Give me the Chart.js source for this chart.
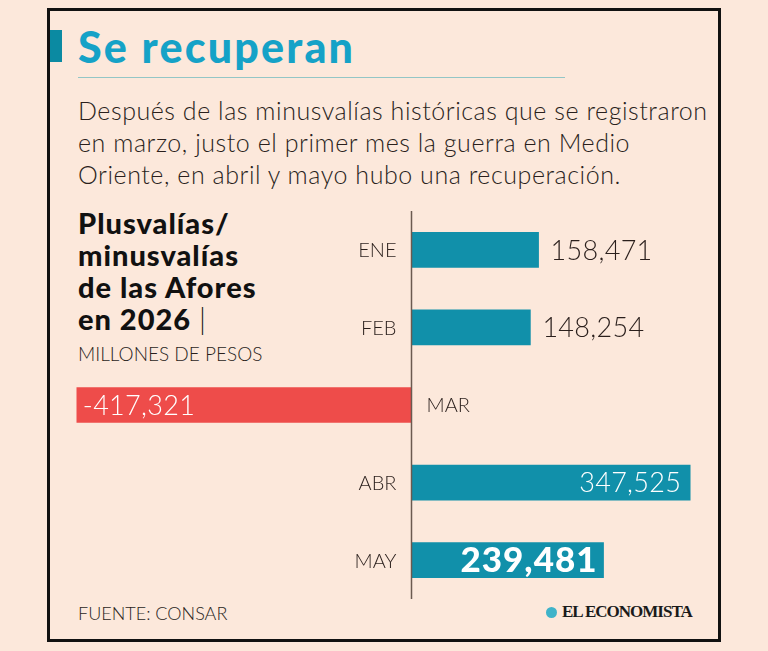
<!DOCTYPE html>
<html>
<head>
<meta charset="utf-8">
<script src="https://cdn.jsdelivr.net/npm/chart.js@4.4.1/dist/chart.umd.min.js"></script>
<style>
  html, body { margin: 0; padding: 0; }
  body {
    width: 768px; height: 651px; background: #fce8db; position: relative; overflow: hidden;
    font-family: Lato, "Noto Sans", sans-serif; color: #2a1f1c;
  }
  .frame { position: absolute; left: 47px; top: 8px; width: 668px; height: 628px; border: 3px solid #111; }
  .accent { position: absolute; left: 50px; top: 30px; width: 12px; height: 32px; background: #0b8aa2; }
  .title { position: absolute; left: 78px; top: 22px; font-size: 43px; font-weight: 900; color: #15a2c7; line-height: 50px; letter-spacing: 2.2px; }
  .rule { position: absolute; left: 78px; top: 77px; width: 487px; height: 1px; background: #93c6c6; }
  .dek { position: absolute; left: 78px; top: 94px; font-size: 25px; font-weight: 300; line-height: 32px; color: #2a1f1c; letter-spacing: 0.55px; }
  .head { position: absolute; left: 78px; top: 207px; font-size: 29px; font-weight: 900; line-height: 32px; color: #111; letter-spacing: 1px; }
  .head .bar { font-weight: 300; }
  .units { position: absolute; left: 78px; top: 342px; font-size: 19px; font-weight: 300; color: #2a1f1c; }
  .source { position: absolute; left: 78px; top: 602px; font-size: 18px; font-weight: 300; color: #2a1f1c; }
  .brand { position: absolute; left: 546px; top: 602px; font-family: "Liberation Serif", serif; font-weight: 700; font-size: 17px; color: #1a1a1a; letter-spacing: -1px; }
  .brand .logo { display: inline-block; width: 11px; height: 11px; border-radius: 50%; background: #3fb3c9; margin-right: 5px; vertical-align: -1px; }
  #wrap { position: absolute; left: 48px; top: 200px; width: 672px; height: 410px; }
</style>
</head>
<body>
<div class="frame"></div>
<div class="accent"></div>
<div class="title">Se recuperan</div>
<div class="rule"></div>
<div class="dek">Después de las minusvalías históricas que se registraron<br>en marzo, justo el primer mes la guerra en Medio<br>Oriente, en abril y mayo hubo una recuperación.</div>
<div class="head">Plusvalías/<br>minusvalías<br>de las Afores<br>en 2026 <span class="bar">|</span></div>
<div class="units">MILLONES DE PESOS</div>
<div class="source">FUENTE: CONSAR</div>
<div class="brand"><span class="logo"></span>EL ECONOMISTA</div>
<div id="wrap"><canvas id="chart" width="672" height="410"></canvas></div>
<script>
// datos (millones de pesos)
const months = ['ENE', 'FEB', 'MAR', 'ABR', 'MAY'];
const gains = [158471, 148254, -417321, 347525, 239481];
const highlightMonth = 'MAY';

const teal = '#1190aa';
const red = '#ee4c4a';
const ink = '#2a1f1c';

const fmt = v => v.toLocaleString('en-US');

// zero line + month names + value labels
const labelsPlugin = {
  id: 'labels',
  afterDatasetsDraw(chart) {
    const { ctx, chartArea, scales: { x, y } } = chart;
    const x0 = x.getPixelForValue(0);
    ctx.save();
    ctx.strokeStyle = '#6b5a50';
    ctx.lineWidth = 1.5;
    ctx.beginPath();
    ctx.moveTo(x0, chartArea.top);
    ctx.lineTo(x0, chartArea.bottom);
    ctx.stroke();

    ctx.textBaseline = 'middle';
    months.forEach((m, i) => {
      const v = gains[i];
      const yc = y.getPixelForValue(i);
      const xe = x.getPixelForValue(v);

      ctx.letterSpacing = '0px';
      ctx.font = '300 20px Lato';
      ctx.fillStyle = ink;
      if (v < 0) {
        ctx.textAlign = 'left';
        ctx.fillText(m, x0 + 15, yc + 1);
      } else {
        ctx.textAlign = 'right';
        ctx.fillText(m, x0 - 15, yc + 1);
      }

      const txt = fmt(v);
      ctx.letterSpacing = '0.3px';
      if (m === highlightMonth) {
        ctx.font = '900 35px Lato';
        ctx.letterSpacing = '1px';
        ctx.fillStyle = '#fff';
        ctx.textAlign = 'right';
        ctx.fillText(txt, xe - 6, yc + 1);
      } else if (v < 0) {
        ctx.font = '300 27px Lato';
        ctx.fillStyle = '#fff';
        ctx.textAlign = 'left';
        ctx.fillText(txt, xe + 6, yc + 1);
      } else if (v > 300000) {
        ctx.font = '300 27px Lato';
        ctx.fillStyle = '#fff';
        ctx.textAlign = 'right';
        ctx.fillText(txt, xe - 9, yc + 1);
      } else {
        ctx.font = '300 27px Lato';
        ctx.fillStyle = ink;
        ctx.textAlign = 'left';
        ctx.fillText(txt, xe + 12, yc + 1);
      }
    });
    ctx.restore();
  }
};

new Chart(document.getElementById('chart'), {
  type: 'bar',
  data: {
    labels: months,
    datasets: [{
      data: gains,
      backgroundColor: gains.map(v => v < 0 ? red : teal),
      borderWidth: 0,
      barThickness: 35
    }]
  },
  options: {
    indexAxis: 'y',
    responsive: false,
    animation: false,
    layout: { padding: { left: 12, right: 10, top: 11, bottom: 11 } },
    scales: {
      x: { display: false, min: -438320, max: 372230 },
      y: { display: false }
    },
    plugins: { legend: { display: false }, tooltip: { enabled: false } }
  },
  plugins: [labelsPlugin]
});
</script>
</body>
</html>
